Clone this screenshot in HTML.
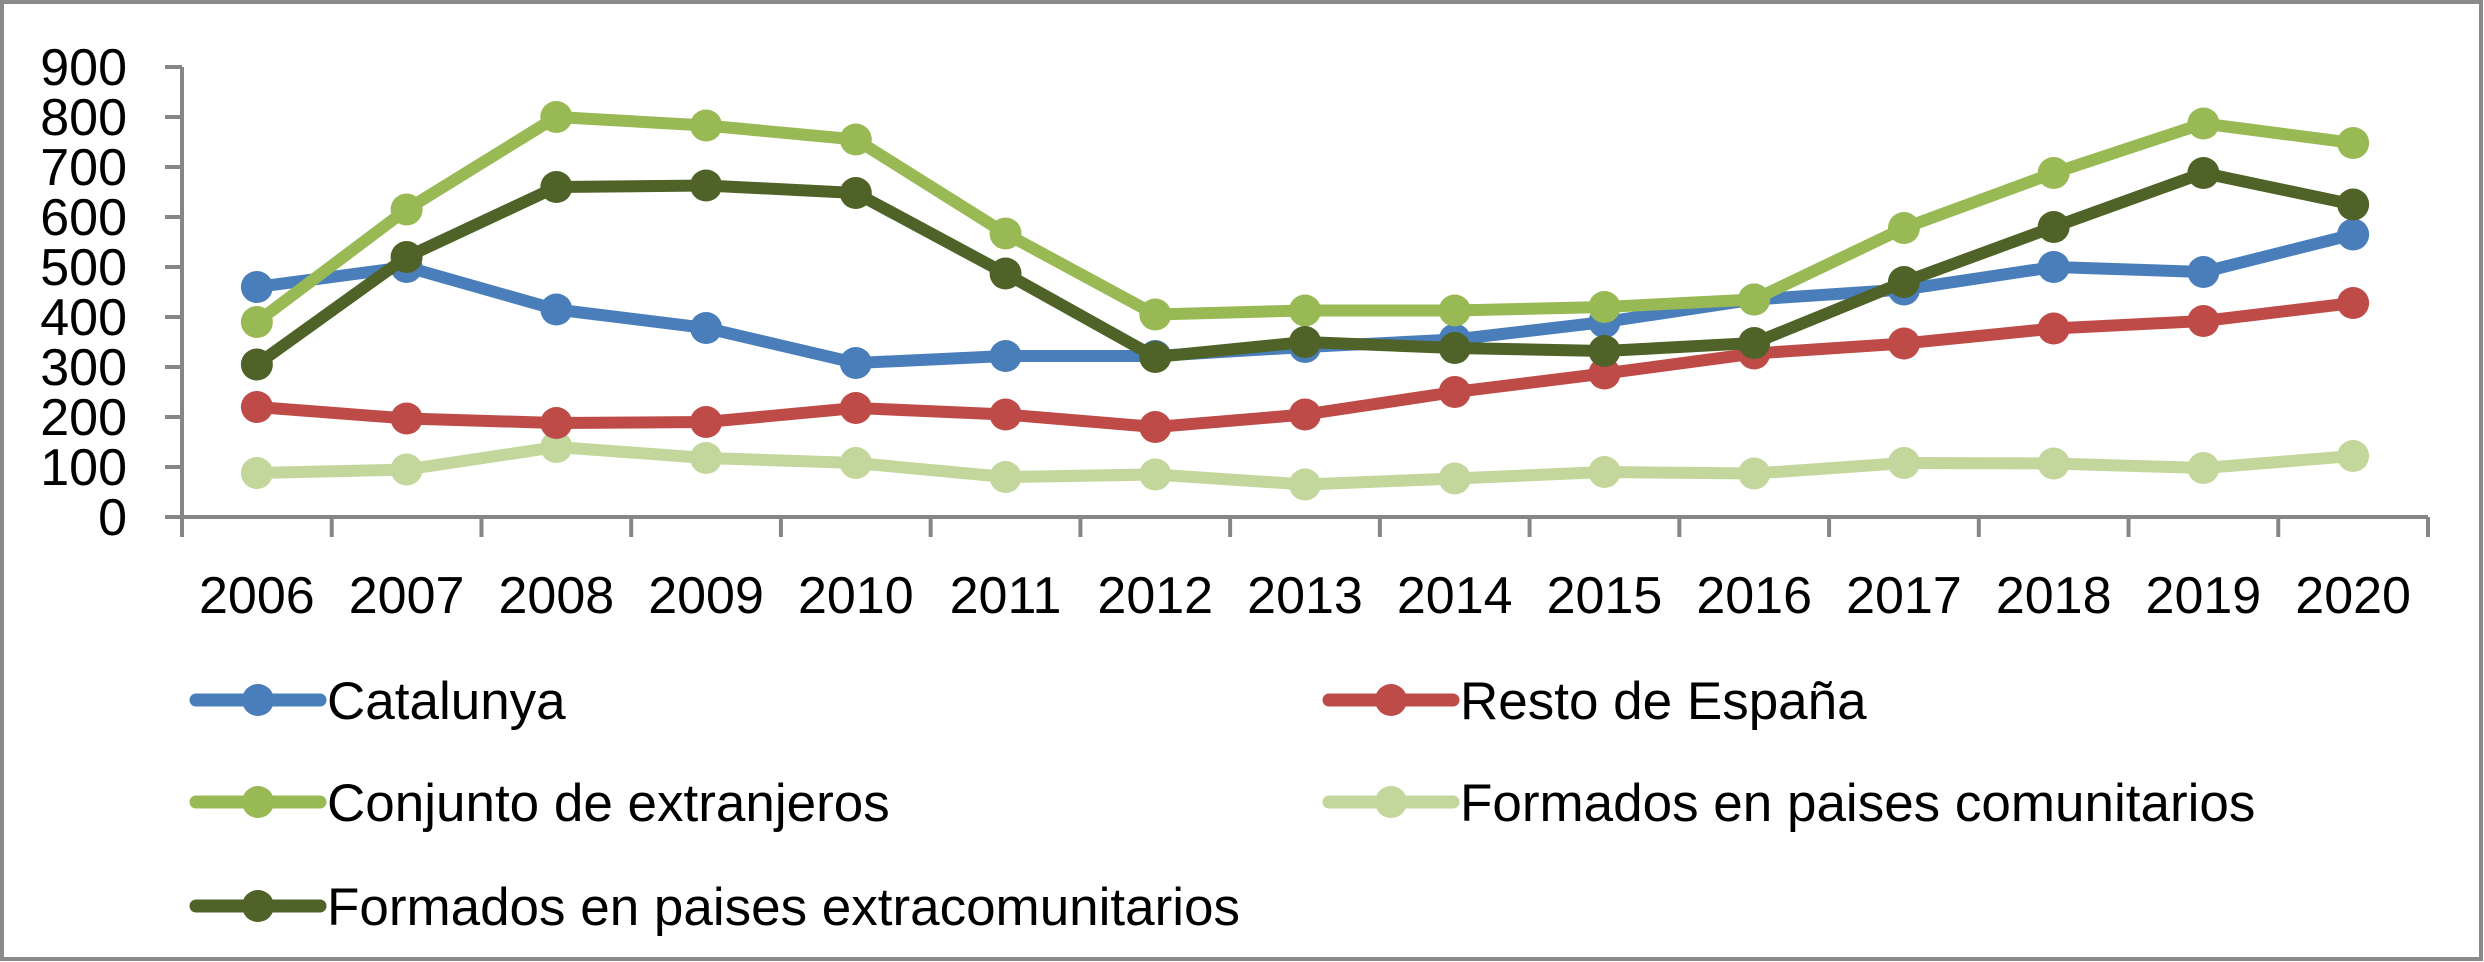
<!DOCTYPE html>
<html><head><meta charset="utf-8">
<style>
html,body{margin:0;padding:0;background:#fff;}
svg{display:block;font-family:"Liberation Sans",sans-serif;}
</style></head>
<body>
<svg id="chart" width="2484" height="962" xmlns="http://www.w3.org/2000/svg">
<rect x="2" y="2" width="2479" height="957" fill="#fff" stroke="#8a8a8a" stroke-width="4"/>
<g id="axes"></g>
<g id="series"></g>
<g id="legend"></g>
</svg>
<script>
const categories = ["2006","2007","2008","2009","2010","2011","2012","2013","2014","2015","2016","2017","2018","2019","2020"];
const yTicks = [0,100,200,300,400,500,600,700,800,900];
const catalunya = [460,500,415,378,308,322,322,340,355,390,435,455,500,490,565];
const restoEspana = [220,197,188,190,218,205,180,205,250,287,327,347,377,392,428];
const conjuntoExtranjeros = [390,615,800,783,755,567,405,413,413,420,435,578,688,787,748];
const comunitarios = [88,95,140,118,108,80,85,65,77,90,87,108,107,98,122];
const extracomunitarios = [305,520,660,663,648,487,320,350,338,332,348,470,580,688,625];
const seriesNames = ["Catalunya","Resto de España","Conjunto de extranjeros","Formados en paises comunitarios","Formados en paises extracomunitarios"];

const NS="http://www.w3.org/2000/svg";
const X0=182, X1=2428, Y0=517, YTOP=67, YMAX=900;
const colW=(X1-X0)/categories.length;
function xPos(i){return X0+colW*(i+0.5);}
function yPos(v){return Y0-(v/YMAX)*(Y0-YTOP);}
function mk(tag,attrs,parent){const e=document.createElementNS(NS,tag);for(const k in attrs)e.setAttribute(k,attrs[k]);parent.appendChild(e);return e;}

const axes=document.getElementById('axes');
const gray="#868686";
const yAxis=mk('line',{x1:X0,y1:YTOP,x2:X0,y2:Y0+20,stroke:gray,'stroke-width':4},axes);


const xAxis=mk('line',{x1:X0-17,y1:Y0,x2:X1,y2:Y0,stroke:gray,'stroke-width':4},axes);


yTicks.forEach(v=>{
  const y=yPos(v);
  const t=mk('line',{x1:X0-17,y1:y,x2:X0,y2:y,stroke:gray,'stroke-width':4},axes);
  
  
  const l=mk('text',{x:127,y:y+18,'text-anchor':'end','font-size':52,fill:'#000'},axes);
  l.textContent=v;
  
  
});
for(let i=0;i<=categories.length;i++){
  const x=X0+colW*i;
  const t=mk('line',{x1:x,y1:Y0,x2:x,y2:Y0+20,stroke:gray,'stroke-width':4},axes);
  
  
}
categories.forEach((c,i)=>{
  const l=mk('text',{x:xPos(i),y:613,'text-anchor':'middle','font-size':52,fill:'#000'},axes);
  l.textContent=c;
  
  
});

const colors=["#4a7ebb","#be4b48","#98b954","#c3d69b","#4f6228"];
const data=[catalunya,restoEspana,conjuntoExtranjeros,comunitarios,extracomunitarios];
const order=[3,1,0,2,4];
const sg=document.getElementById('series');
order.forEach(s=>{
  const g=mk('g',{},sg);
  
  
  const pts=data[s].map((v,i)=>xPos(i)+','+yPos(v)).join(' ');
  const pl=mk('polyline',{points:pts,fill:'none',stroke:colors[s],'stroke-width':12,'stroke-linejoin':'round'},g);
  
  
  data[s].forEach((v,i)=>{
    const c=mk('circle',{cx:xPos(i),cy:yPos(v),r:16,fill:colors[s]},g);
    
    
  });
});

const lg=document.getElementById('legend');
const legPos=[[196,700],[1329,700],[196,802],[1329,802],[196,906]];
const legLen=[null,null,null,null,913];
seriesNames.forEach((n,s)=>{
  const [x,y]=legPos[s];
  const g=mk('g',{},lg);
  
  
  mk('line',{x1:x,y1:y,x2:x+124,y2:y,stroke:colors[s],'stroke-width':13,'stroke-linecap':'round'},g);
  mk('circle',{cx:x+62,cy:y,r:16,fill:colors[s]},g);
  const attrs={x:x+131,y:y+19,'font-size':53,fill:'#000'};
  if(legLen[s]) {attrs.textLength=legLen[s];attrs.lengthAdjust='spacingAndGlyphs';}
  const t=mk('text',attrs,g);
  t.textContent=n;
  
  
});
</script>
</body></html>
